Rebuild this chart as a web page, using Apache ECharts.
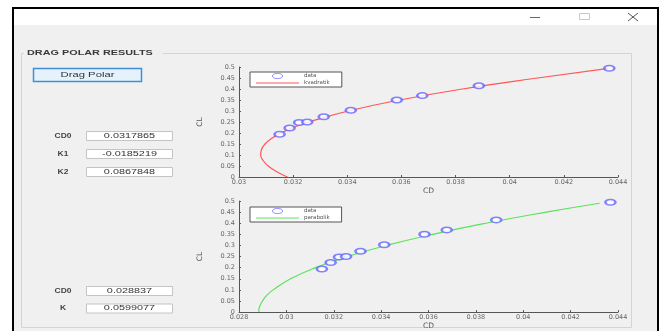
<!DOCTYPE html>
<html>
<head>
<meta charset="utf-8">
<script src="https://cdn.jsdelivr.net/npm/echarts@6/dist/echarts.min.js"></script>
<style>
  html, body { margin: 0; padding: 0; background: #fff; }
  #main { width: 667px; height: 331px; }
</style>
</head>
<body>
<div id="main"></div>
<script>
// measured polar points (same data in both plots)
const cdData = [0.03150, 0.03187, 0.03222, 0.03252, 0.03313, 0.03413, 0.03583, 0.03677, 0.03886, 0.04368];
const clData = [0.194, 0.223, 0.248, 0.250, 0.274, 0.303, 0.350, 0.370, 0.415, 0.494];

// quadratic fit curve (red)
const quadCL = [0, 0.025, 0.05, 0.075, 0.1, 0.125, 0.15, 0.175, 0.2, 0.225, 0.25, 0.3, 0.35, 0.4, 0.45, 0.494];
const quadCD = [0.03179, 0.03138, 0.03108, 0.03089, 0.03080, 0.03083, 0.03096, 0.03120, 0.03155, 0.03201, 0.03258, 0.03404, 0.03594, 0.03826, 0.04103, 0.04365];

// parabolic fit curve (green)
const paraCL = [0, 0.01, 0.025, 0.05, 0.075, 0.1, 0.15, 0.2, 0.25, 0.3, 0.35, 0.4, 0.45, 0.49];
const paraCD = [0.02884, 0.02884, 0.02887, 0.02899, 0.02917, 0.02944, 0.03018, 0.03123, 0.03258, 0.03423, 0.03618, 0.03842, 0.04097, 0.04322];

const quadLabels = ['CD0', 'K1', 'K2'];
const quadValues = ['0.0317865', '-0.0185219', '0.0867848'];
const paraLabels = ['CD0', 'K'];
const paraValues = ['0.028837', '0.0599077'];

const FONT = '"Liberation Sans", Arial, sans-serif';
const AXFONT = '"DejaVu Sans", sans-serif';
const BLUE = '#6464ff';
const pairs = (xs, ys) => xs.map((x, i) => [x, ys[i]]);
const tickFmt = v => String(parseFloat(v.toFixed(4)));

const chart = echarts.init(document.getElementById('main'));

// gui chrome, the screenshot text is stretched sideways so texts get scaleX
const graphics = [
  {type: 'rect', shape: {x: 13, y: 8, width: 645, height: 330}, style: {fill: '#f0f0f0', stroke: '#000', lineWidth: 2}, silent: true},
  {type: 'rect', shape: {x: 14, y: 9, width: 643, height: 16}, style: {fill: '#fff'}, silent: true},
  {type: 'line', shape: {x1: 530, y1: 17.5, x2: 540, y2: 17.5}, style: {stroke: '#666', lineWidth: 1}},
  {type: 'rect', shape: {x: 579.5, y: 13.5, width: 10, height: 6}, style: {fill: 'none', stroke: '#c8c8c8', lineWidth: 1}},
  {type: 'line', shape: {x1: 628, y1: 13, x2: 638, y2: 21}, style: {stroke: '#555', lineWidth: 1}},
  {type: 'line', shape: {x1: 638, y1: 13, x2: 628, y2: 21}, style: {stroke: '#555', lineWidth: 1}},
  {type: 'rect', shape: {x: 21.5, y: 53.5, width: 610, height: 274}, style: {fill: 'none', stroke: '#d4d4d4', lineWidth: 1}},
  {type: 'rect', shape: {x: 24, y: 49, width: 139, height: 9}, style: {fill: '#f0f0f0'}},
  {type: 'text', x: 27, y: 53.5, scaleX: 1.55, style: {text: 'DRAG POLAR RESULTS', font: 'bold 7px ' + FONT, fill: '#3a3a3a', verticalAlign: 'middle'}},
  {type: 'rect', shape: {x: 33.5, y: 68.5, width: 108, height: 13}, style: {fill: '#e5f1fb', stroke: '#3d8fd6', lineWidth: 1.5}},
  {type: 'text', x: 87.5, y: 75, scaleX: 1.5, style: {text: 'Drag Polar', font: '7.5px ' + FONT, fill: '#333', align: 'center', verticalAlign: 'middle'}}
];

function paramRows(labels, values, top, step) {
  labels.forEach((lab, i) => {
    const y = top + i * step;
    graphics.push(
      {type: 'text', x: 63, y: y + 5, scaleX: 1.3, style: {text: lab, font: 'bold 6.5px ' + FONT, fill: '#444', align: 'center', verticalAlign: 'middle'}},
      {type: 'rect', shape: {x: 86.5, y: y + 0.5, width: 86, height: 9}, style: {fill: '#fff', stroke: '#c4c4c4', lineWidth: 1}},
      {type: 'text', x: 129.5, y: y + 5, scaleX: 1.55, style: {text: values[i], font: '7px ' + FONT, fill: '#333', align: 'center', verticalAlign: 'middle'}}
    );
  });
}
paramRows(quadLabels, quadValues, 131, 18);
paramRows(paraLabels, paraValues, 286, 17.5);

function xAxisOf(gi, min) {
  return {
    gridIndex: gi, type: 'value', min: min, max: 0.044, interval: 0.002,
    name: 'CD', nameLocation: 'middle', nameGap: 7,
    nameTextStyle: {fontSize: 7.5, color: '#555', fontFamily: AXFONT},
    axisLine: {lineStyle: {color: '#555', width: 1}},
    axisTick: {inside: true, length: 2, lineStyle: {color: '#555'}},
    axisLabel: {fontSize: 6.5, color: '#666', margin: 2, fontFamily: AXFONT, formatter: tickFmt},
    splitLine: {show: false}
  };
}
function yAxisOf(gi) {
  return {
    gridIndex: gi, type: 'value', min: 0, max: 0.5, interval: 0.05,
    name: 'CL', nameLocation: 'middle', nameGap: 35, nameRotate: 90,
    nameTextStyle: {fontSize: 7.5, color: '#555', fontFamily: AXFONT},
    axisLine: {show: true, lineStyle: {color: '#555', width: 1}},
    axisTick: {show: true, inside: true, length: 2, lineStyle: {color: '#555'}},
    axisLabel: {fontSize: 6.5, color: '#666', margin: 4, fontFamily: AXFONT, formatter: tickFmt},
    splitLine: {show: false}
  };
}
const ringIcon = 'path://M0,2.5A5,2.5 0 1,1 10,2.5A5,2.5 0 1,1 0,2.5Z';
const lineIcon = 'path://M0,0H43V1.2H0Z';
function legendOf(top, fitName) {
  return {
    data: [
      {name: 'data', icon: ringIcon, itemStyle: {color: '#fff', borderColor: BLUE, borderWidth: 0.9}},
      {name: fitName, icon: lineIcon}
    ],
    left: 250, top: top, orient: 'vertical',
    itemWidth: 43, itemHeight: 5, itemGap: 1,
    padding: [1, 12, 1, 6],
    backgroundColor: '#fff', borderColor: '#555', borderWidth: 1,
    textStyle: {fontSize: 5.5, color: '#555', fontFamily: AXFONT},
    selectedMode: false
  };
}
function dataSeries(gi) {
  return {
    name: 'data', type: 'scatter', xAxisIndex: gi, yAxisIndex: gi,
    symbol: 'emptyCircle', symbolSize: [10, 5.5], symbolKeepAspect: false,
    itemStyle: {color: BLUE, borderColor: BLUE, borderWidth: 0.9},
    data: pairs(cdData, clData), z: 3
  };
}

chart.setOption({
  backgroundColor: '#fff',
  animation: false,
  graphic: graphics,
  grid: [
    {left: 239, top: 67, width: 379, height: 110, show: true, backgroundColor: '#fff', borderWidth: 0},
    {left: 239, top: 201, width: 379, height: 112, show: true, backgroundColor: '#fff', borderWidth: 0}
  ],
  xAxis: [xAxisOf(0, 0.03), xAxisOf(1, 0.028)],
  yAxis: [yAxisOf(0), yAxisOf(1)],
  legend: [legendOf(72, 'kvadratik'), legendOf(207, 'parabolik')],
  series: [
    dataSeries(0),
    {
      name: 'kvadratik', type: 'line', xAxisIndex: 0, yAxisIndex: 0,
      symbol: 'none', smooth: true,
      lineStyle: {color: '#ff5555', width: 1.2}, itemStyle: {color: '#ff5555'},
      data: pairs(quadCD, quadCL)
    },
    dataSeries(1),
    {
      name: 'parabolik', type: 'line', xAxisIndex: 1, yAxisIndex: 1,
      symbol: 'none', smooth: true,
      lineStyle: {color: '#5ae35a', width: 1.2}, itemStyle: {color: '#5ae35a'},
      data: pairs(paraCD, paraCL)
    }
  ]
});
</script>
</body>
</html>
